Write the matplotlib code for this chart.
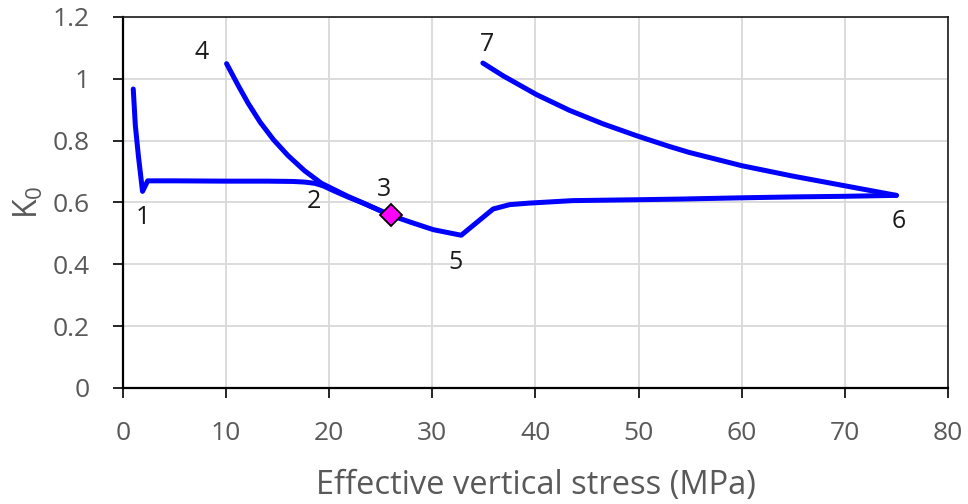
import matplotlib
matplotlib.use("Agg")
import matplotlib.pyplot as plt

plt.rcParams['font.family'] = ['Open Sans', 'DejaVu Sans']
plt.rcParams['mathtext.fontset'] = 'custom'
plt.rcParams['mathtext.rm'] = 'Open Sans'
plt.rcParams['mathtext.it'] = 'Open Sans'

# loading path 1 -> 2 -> 3
load_x = [1.0, 1.2, 1.5, 1.9, 2.4, 5.0, 10.0, 14.0, 16.5, 17.6, 18.6, 19.4, 20.5, 21.8, 23.3, 26.0]
load_k = [0.967, 0.85, 0.75, 0.636, 0.670, 0.670, 0.669, 0.669, 0.668, 0.666, 0.662, 0.654, 0.637, 0.618, 0.598, 0.558]

# unloading 3 -> 4 (and reloading along the same curve)
unload1_x = [26.0, 23.3, 21.8, 19.25, 17.6, 16.0, 14.6, 13.3, 12.14, 11.2, 10.05]
unload1_k = [0.558, 0.598, 0.620, 0.662, 0.703, 0.752, 0.803, 0.860, 0.921, 0.977, 1.049]

# reloading 3 -> 5 -> 6
reload_x = [26.0, 28.0, 30.1, 32.8, 35.9, 37.5, 39.4, 43.6, 50.1, 54.0, 59.8, 65.0, 70.0, 75.0]
reload_k = [0.558, 0.535, 0.512, 0.494, 0.579, 0.593, 0.598, 0.606, 0.609, 0.611, 0.615, 0.618, 0.620, 0.623]

# unloading 6 -> 7
unload2_x = [75.0, 70.0, 65.0, 60.0, 54.9, 53.0, 49.8, 46.5, 43.3, 40.1, 36.85, 34.9]
unload2_k = [0.623, 0.654, 0.685, 0.719, 0.762, 0.781, 0.816, 0.855, 0.898, 0.949, 1.010, 1.051]

point3 = (26.0, 0.558)

label_text = ['1', '2', '3', '4', '5', '6', '7']
label_x = [1.94, 18.5, 25.3, 7.6, 32.2, 75.2, 35.3]
label_y = [0.55, 0.602, 0.641, 1.084, 0.405, 0.538, 1.11]

fig = plt.figure(figsize=(9.68, 5.04), dpi=100)
ax = fig.add_axes([0.127, 0.2302, 0.8523, 0.7361])

for xs, ks in [(load_x, load_k), (unload1_x, unload1_k), (reload_x, reload_k), (unload2_x, unload2_k)]:
    ax.plot(xs, ks, color='#0000FF', lw=3.6, solid_joinstyle='round', solid_capstyle='round', zorder=3)

ax.plot([point3[0]], [point3[1]], marker='D', ms=11, mfc='#FF00FF', mec='black', mew=1.3, zorder=4)

for t, x, y in zip(label_text, label_x, label_y):
    ax.text(x, y, t, fontsize=18, color='#1a1a1a', ha='center', va='center')

ax.set_xlim(0, 80)
ax.set_ylim(0, 1.2)
ax.set_xticks(range(0, 81, 10))
ax.set_yticks([0, 0.2, 0.4, 0.6, 0.8, 1.0, 1.2])
ax.set_yticklabels(['0', '0.2', '0.4', '0.6', '0.8', '1', '1.2'])
ax.grid(True, color='#D9D9D9', lw=1.3)
ax.set_axisbelow(True)

for s in ['left', 'bottom']:
    ax.spines[s].set_linewidth(1.6)
    ax.spines[s].set_color('black')
for s in ['top', 'right']:
    ax.spines[s].set_linewidth(1.2)
    ax.spines[s].set_color('#1a1a1a')

ax.tick_params(direction='out', length=7, width=1.2, color='black', labelsize=19, labelcolor='#595959')
ax.tick_params(axis='y', pad=17)
ax.tick_params(axis='x', pad=17)

ax.set_xlabel('Effective vertical stress (MPa)', fontsize=23.5, color='#595959', labelpad=16)
ax.set_ylabel('K$_0$', fontsize=23, color='#595959', labelpad=5)

fig.savefig('out.png', dpi=100)
